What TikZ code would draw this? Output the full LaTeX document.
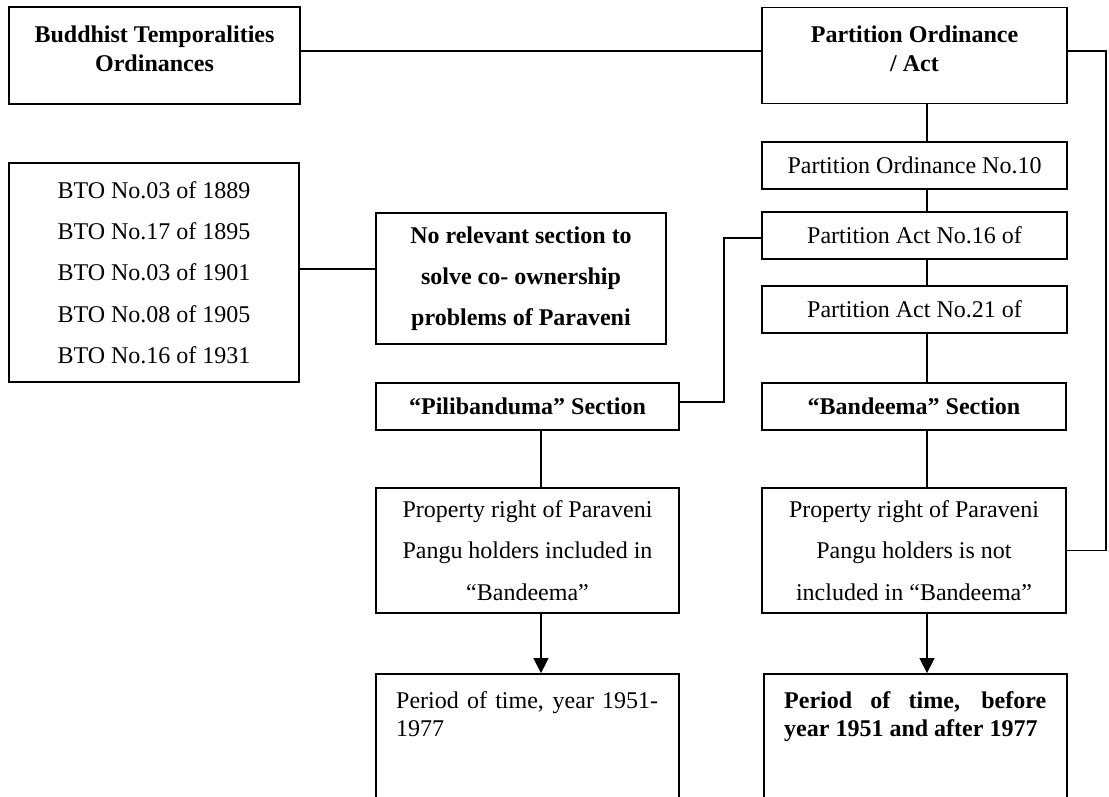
\documentclass[tikz,border=0pt]{standalone}
\usepackage{fontspec}
\setmainfont{Liberation Serif}
\usetikzlibrary{arrows.meta,calc}

\begin{document}
\begin{tikzpicture}[x=1pt,y=-1pt,
  box/.style={draw, line width=1.8pt, inner sep=0pt, align=center,
    font=\fontsize{24}{29}\selectfont},
  bbox/.style={box, font=\fontsize{24}{29}\selectfont\bfseries},
  txt/.style={inner sep=0pt, align=center, font=\fontsize{24}{29}\selectfont\bfseries},
  para/.style={inner sep=0pt, anchor=north west, text width=262pt, align=justify,
    font=\fontsize{24}{28}\selectfont},
  wire/.style={line width=1.5pt},
  arr/.style={wire, -{Triangle[length=15pt,width=15pt]}},
]
\clip (0,0) rectangle (1109,797);
\fill[white] (0,0) rectangle (1109,797);

% spines for the two columns
\coordinate (rs) at (927,0);
\coordinate (ls) at (541,0);

% top row
\node[box, minimum width=291pt, minimum height=97pt] (bud) at (154.5,55.5) {};
\node[txt] (budtxt) at (154.5,49) {Buddhist Temporalities\\Ordinances};
\node[box, minimum width=305pt, minimum height=96pt] (po) at (914.5,55.5) {};
\node[txt] (potxt) at (914.5,49) {Partition Ordinance\\/ Act};

% right column
\node[box, minimum width=305pt, minimum height=47pt] (no10) at (914.5,165.5) {Partition Ordinance No.10};
\node[box, minimum width=305pt, minimum height=47pt] (act16) at (914.5,235.5) {Partition Act No.16 of};
\node[box, minimum width=305pt, minimum height=47pt] (act21) at (914.5,309.5) {Partition Act No.21 of};
\node[bbox, minimum width=304pt, minimum height=47pt] (band) at (914,406.5) {“Bandeema” Section};
\node[box, minimum width=304pt, minimum height=125pt,
  font=\fontsize{24}{41.5}\selectfont] (propR) at (914,550.5)
  {Property right of Paraveni\\Pangu holders is not\\included in “Bandeema”};
\node[box, minimum width=303pt, minimum height=156pt] (perR) at (915.5,752) {};
\node[para, font=\fontsize{24}{28}\selectfont\bfseries] (perRtxt) at (784,691.5)
  {Period of time, before\linebreak year 1951 and after 1977};

% left side
\node[box, minimum width=290pt, minimum height=219pt,
  font=\fontsize{24}{41.3}\selectfont] (bto) at (154,272.5)
  {BTO No.03 of 1889\\BTO No.17 of 1895\\BTO No.03 of 1901\\BTO No.08 of 1905\\BTO No.16 of 1931};
\node[bbox, minimum width=290pt, minimum height=131pt,
  font=\fontsize{24}{41}\selectfont\bfseries] (norel) at (521,278.5)
  {No relevant section to\\solve co- ownership\\problems of Paraveni};
\node[bbox, minimum width=303pt, minimum height=47pt] (pili) at (527.5,406.5) {“Pilibanduma” Section};
\node[box, minimum width=303pt, minimum height=125pt,
  font=\fontsize{24}{41.5}\selectfont] (propL) at (527.5,550.5)
  {Property right of Paraveni\\Pangu holders included in\\“Bandeema”};
\node[box, minimum width=303pt, minimum height=156pt] (perL) at (527.5,752) {};
\node[para] (perLtxt) at (396,691.5) {Period of time, year 1951-\linebreak 1977};

% connectors
\draw[wire] ([yshift=4.5pt]bud.east) -- ([yshift=4.5pt]po.west);
\draw[wire] ([yshift=4.5pt]po.east) -- ++(38,0) |- (propR.east);
\draw[wire] (po.south -| rs) -- (no10.north -| rs);
\draw[wire] (no10.south -| rs) -- (act16.north -| rs);
\draw[wire] (act16.south -| rs) -- (act21.north -| rs);
\draw[wire] (act21.south -| rs) -- (band.north -| rs);
\draw[wire] (band.south -| rs) -- (propR.north -| rs);
\draw[arr] (propR.south -| rs) -- (perR.north -| rs);

\draw[wire] ([yshift=3.5pt]bto.east) -- ([yshift=3.5pt]bto.east -| norel.west);
\draw[wire] ([yshift=4.5pt]pili.east) -- ++(44,0) |- ([yshift=-2.5pt]act16.west);
\draw[wire] (pili.south -| ls) -- (propL.north -| ls);
\draw[arr] (propL.south -| ls) -- (perL.north -| ls);
\end{tikzpicture}
\end{document}
